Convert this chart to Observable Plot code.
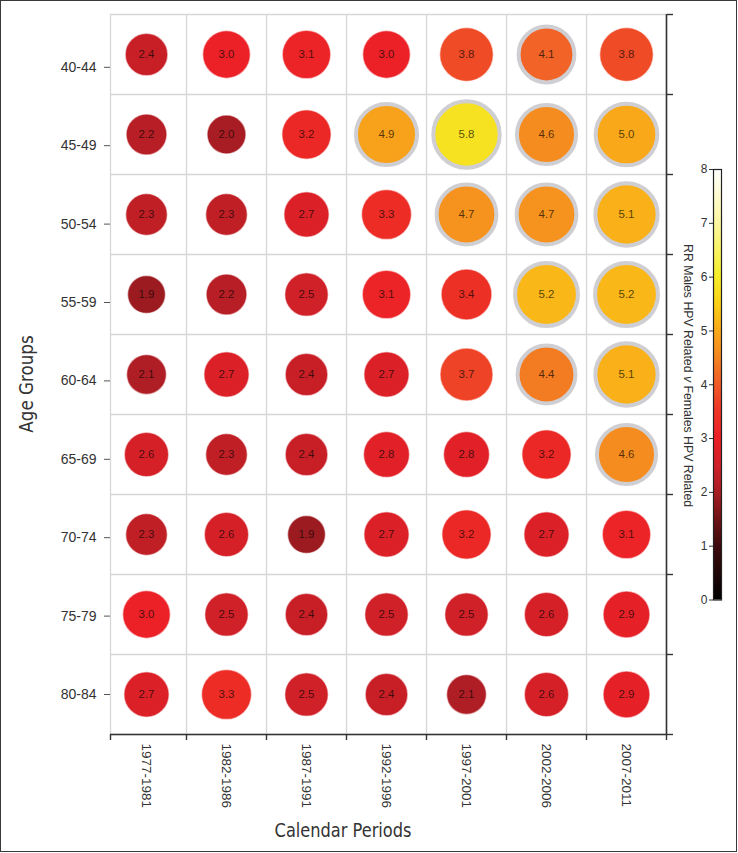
<!DOCTYPE html>
<html>
<head>
<meta charset="utf-8">
<script src="https://cdn.jsdelivr.net/npm/d3@7"></script>
<script src="https://cdn.jsdelivr.net/npm/@observablehq/plot@0.6"></script>
<style>
html, body { margin: 0; padding: 0; background: #fff; }
#wrap { position: relative; width: 738px; height: 853px; overflow: hidden; font-family: "Liberation Sans", Arial, sans-serif; }
#wrap svg { position: absolute; }
#border { position: absolute; left: 0; top: 0; width: 737px; height: 852px; box-sizing: border-box; border: 1.6px solid #3a3a3a; pointer-events: none; }
.title { position: absolute; font-family: "Liberation Sans Narrow", "DejaVu Sans Condensed", sans-serif; font-size: 20px; color: #333; white-space: nowrap; line-height: 1; }
#cblabel { position: absolute; left: 681px; top: 244px; writing-mode: vertical-rl; font-size: 12.3px; line-height: 13px; color: #333; white-space: nowrap; }
</style>
</head>
<body>
<div id="wrap"></div>
<script>
// ---- data ----
const periods = ["1977-1981", "1982-1986", "1987-1991", "1992-1996", "1997-2001", "2002-2006", "2007-2011"];
const ages = ["40-44", "45-49", "50-54", "55-59", "60-64", "65-69", "70-74", "75-79", "80-84"];
const rr4044 = [2.4, 3.0, 3.1, 3.0, 3.8, 4.1, 3.8];
const rr4549 = [2.2, 2.0, 3.2, 4.9, 5.8, 4.6, 5.0];
const rr5054 = [2.3, 2.3, 2.7, 3.3, 4.7, 4.7, 5.1];
const rr5559 = [1.9, 2.2, 2.5, 3.1, 3.4, 5.2, 5.2];
const rr6064 = [2.1, 2.7, 2.4, 2.7, 3.7, 4.4, 5.1];
const rr6569 = [2.6, 2.3, 2.4, 2.8, 2.8, 3.2, 4.6];
const rr7074 = [2.3, 2.6, 1.9, 2.7, 3.2, 2.7, 3.1];
const rr7579 = [3.0, 2.5, 2.4, 2.5, 2.5, 2.6, 2.9];
const rr8084 = [2.7, 3.3, 2.5, 2.4, 2.1, 2.6, 2.9];
const rrRows = [rr4044, rr4549, rr5054, rr5559, rr6064, rr6569, rr7074, rr7579, rr8084];
const colorTicks = [0, 1, 2, 3, 4, 5, 6, 7, 8];
const colorStops = [0, 1, 1.5, 2, 2.5, 3, 3.5, 4, 4.5, 5, 5.5, 6, 7, 8];
const colorRange = ["#000000", "#3d0a0c", "#6e1216", "#a81d24", "#d02028", "#ec2027", "#ed3426", "#f05a28", "#f48520", "#f9a81a", "#fbd016", "#f5ee28", "#fcf7a0", "#ffffff"];
const ringThreshold = 4;

// ---- table ----
const table = ages.flatMap((age, i) => periods.map((period, j) => ({
  age, period, row: i + 0.5, col: j + 0.5, value: rrRows[i][j]
})));

const colorScale = {type: "linear", domain: colorStops, range: colorRange, interpolate: "rgb"};
const xBounds = [0.05, ...d3.range(1, periods.length + 1)];
const yBounds = d3.range(0, ages.length + 1);
const ageTicks = ages.map((_, i) => (ages.length - 0.5) - (ages.length - 1 - i) * 0.98);

const main = Plot.plot({
  width: 738, height: 853,
  marginLeft: 110, marginRight: 72, marginTop: 14, marginBottom: 119,
  x: {domain: [0.05, periods.length], axis: null},
  y: {domain: [0, ages.length], reverse: true, axis: null},
  r: {domain: [0, 8], range: [0, 39]},
  color: colorScale,
  style: {fontFamily: "'Liberation Sans', Arial, sans-serif", fontSize: "14px", color: "#333", background: "transparent"},
  marks: [
    Plot.ruleX(xBounds, {stroke: "#d6d6d6", strokeWidth: 1.3}),
    Plot.ruleY(yBounds, {stroke: "#d6d6d6", strokeWidth: 1.3}),
    Plot.dot(table.filter(d => d.value < ringThreshold), {x: "col", y: "row", r: "value", fill: "value", stroke: "#ffffff", strokeOpacity: 0.55, strokeWidth: 1.5}),
    Plot.dot(table.filter(d => d.value >= ringThreshold), {x: "col", y: "row", r: "value", fill: "value", stroke: "#cfcfd3", strokeWidth: 4}),
    Plot.text(table, {x: "col", y: "row", text: d => d.value.toFixed(1), fontSize: 11.5, fill: "#000", fillOpacity: 0.68}),
    Plot.ruleY([ages.length], {stroke: "#333", strokeWidth: 1.6}),
    Plot.ruleX([periods.length], {stroke: "#333", strokeWidth: 1.6}),
    Plot.axisX({ticks: xBounds, tickSize: 6, tickFormat: () => "", stroke: "#333", strokeWidth: 1.4, label: null}),
    Plot.axisX({ticks: periods.map((_, j) => j + 0.5), tickSize: 0, tickPadding: 9, tickRotate: 90, fontSize: 13.5, fill: "#333",
      tickFormat: v => periods[Math.floor(v)], label: null}),
    Plot.axisY({ticks: ageTicks, tickSize: 6, tickPadding: 8, stroke: "#555", fill: "#333", fontSize: 14,
      tickFormat: v => ages[ageTicks.indexOf(v)], label: null}),
    Plot.axisY({anchor: "right", ticks: yBounds, tickSize: 6, tickFormat: () => "", stroke: "#333", strokeWidth: 1.4, label: null})
  ]
});

const bands = d3.range(0, 8, 0.04);
const bar = Plot.plot({
  width: 31, height: 451,
  marginLeft: 20, marginRight: 3, marginTop: 10, marginBottom: 10.5,
  x: {domain: [0, 1], axis: null},
  y: {domain: [0, 8], axis: null},
  color: colorScale,
  style: {fontFamily: "'Liberation Sans', Arial, sans-serif", fontSize: "12px", color: "#333", background: "transparent", overflow: "visible"},
  marks: [
    Plot.rect(bands, {x1: 0, x2: 1, y1: d => d, y2: d => Math.min(8, d + 0.06), fill: d => d + 0.02}),
    Plot.frame({stroke: "#222", strokeWidth: 1.2}),
    Plot.axisY({ticks: colorTicks, tickSize: 4, tickPadding: 2, fontSize: 12, label: null})
  ]
});

const wrap = document.getElementById("wrap");
main.style.left = "0px"; main.style.top = "0px";
wrap.appendChild(main);
bar.style.left = "693px"; bar.style.top = "159px";
wrap.appendChild(bar);

const yTitle = document.createElement("div");
yTitle.className = "title";
yTitle.textContent = "Age Groups";
yTitle.style.left = "25.5px"; yTitle.style.top = "383.5px";
yTitle.style.transform = "translate(-50%, -50%) rotate(-90deg) scaleX(0.93)";
wrap.appendChild(yTitle);

const xTitle = document.createElement("div");
xTitle.className = "title";
xTitle.textContent = "Calendar Periods";
xTitle.style.left = "342.5px"; xTitle.style.top = "820px";
xTitle.style.transform = "translateX(-50%) scaleX(0.9)";
wrap.appendChild(xTitle);

const cb = document.createElement("div");
cb.id = "cblabel";
cb.innerHTML = "RR Males HPV Related <i>v</i> Females HPV Related";
wrap.appendChild(cb);

const border = document.createElement("div");
border.id = "border";
wrap.appendChild(border);
</script>
</body>
</html>
